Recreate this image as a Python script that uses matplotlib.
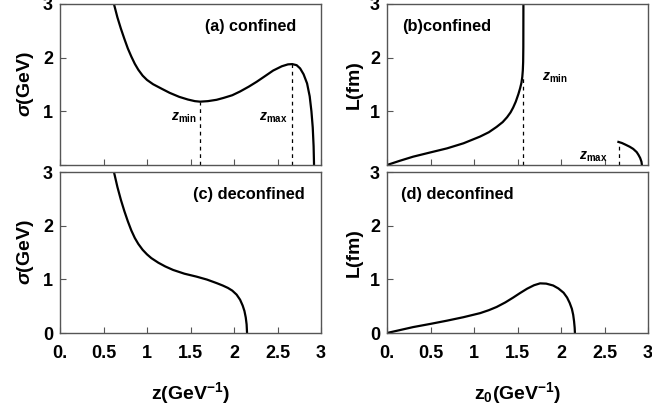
import matplotlib
matplotlib.use("Agg")
import matplotlib.pyplot as plt

plt.rcParams['font.family'] = ['Liberation Sans', 'DejaVu Sans']
plt.rcParams['font.weight'] = 'bold'
plt.rcParams['mathtext.fontset'] = 'custom'
plt.rcParams['mathtext.rm'] = 'Liberation Sans:bold'
plt.rcParams['mathtext.it'] = 'Liberation Sans:bold:italic'
plt.rcParams['mathtext.bf'] = 'Liberation Sans:bold'

# (a) string tension, confined phase
z_conf = [0.62, 0.66, 0.70, 0.74, 0.78, 0.82, 0.86, 0.90, 0.95, 1.00, 1.07, 1.17, 1.26,
          1.37, 1.47, 1.55, 1.61, 1.70, 1.80, 1.88, 1.98, 2.07, 2.17, 2.26, 2.36, 2.45,
          2.55, 2.62, 2.67, 2.72, 2.76, 2.80, 2.84, 2.87, 2.89, 2.905, 2.915, 2.92]
sigma_conf = [3.00, 2.75, 2.54, 2.35, 2.17, 2.02, 1.885, 1.775, 1.665, 1.585, 1.505, 1.42, 1.345,
              1.27, 1.22, 1.19, 1.18, 1.19, 1.215, 1.25, 1.30, 1.37, 1.46, 1.55, 1.66, 1.76,
              1.84, 1.875, 1.88, 1.86, 1.80, 1.69, 1.52, 1.28, 1.00, 0.70, 0.35, 0.00]
z_min, z_max = 1.61, 2.67
sigma_at_zmin, sigma_at_zmax = 1.18, 1.88

# (b) separation, confined phase: branch below z_min and branch beyond z_max
z0_b1 = [0.00, 0.15, 0.30, 0.50, 0.69, 0.88, 1.07, 1.17, 1.26, 1.33, 1.38, 1.42, 1.45,
         1.48, 1.51, 1.53, 1.545, 1.555, 1.561, 1.565, 1.567, 1.568]
L_b1 = [0.00, 0.08, 0.155, 0.235, 0.31, 0.405, 0.53, 0.61, 0.71, 0.80, 0.89, 0.98, 1.07,
        1.18, 1.32, 1.43, 1.53, 1.64, 1.76, 1.92, 2.20, 3.00]
z0_b2 = [2.66, 2.70, 2.74, 2.79, 2.83, 2.87, 2.89, 2.91, 2.925, 2.93]
L_b2 = [0.43, 0.41, 0.38, 0.34, 0.30, 0.24, 0.19, 0.13, 0.06, 0.00]
L_dash_zmin, L_dash_zmax = 1.62, 0.42

# (c) string tension, deconfined phase
z_dec = [0.62, 0.66, 0.70, 0.74, 0.78, 0.82, 0.86, 0.90, 0.95, 1.00, 1.05, 1.13, 1.21,
         1.30, 1.43, 1.57, 1.69, 1.80, 1.87, 1.93, 1.98, 2.03, 2.07, 2.10, 2.12, 2.135,
         2.145, 2.15]
sigma_dec = [3.00, 2.72, 2.48, 2.27, 2.08, 1.91, 1.77, 1.66, 1.55, 1.465, 1.395, 1.31, 1.24,
             1.175, 1.105, 1.05, 0.995, 0.93, 0.885, 0.84, 0.79, 0.715, 0.62, 0.51, 0.41, 0.29,
             0.16, 0.00]

# (d) separation, deconfined phase
z0_dec = [0.00, 0.15, 0.30, 0.50, 0.69, 0.88, 1.07, 1.17, 1.26, 1.36, 1.45, 1.53, 1.61,
          1.69, 1.76, 1.83, 1.91, 1.97, 2.03, 2.07, 2.10, 2.125, 2.14, 2.15, 2.157, 2.16]
L_dec = [0.00, 0.055, 0.11, 0.17, 0.23, 0.295, 0.37, 0.425, 0.485, 0.57, 0.66, 0.745, 0.825,
         0.89, 0.925, 0.92, 0.885, 0.83, 0.75, 0.66, 0.56, 0.45, 0.34, 0.22, 0.10, 0.00]

xticks = [0, 0.5, 1, 1.5, 2, 2.5, 3]
xticklabels = ['0.', '0.5', '1', '1.5', '2', '2.5', '3']
yticks = [0, 1, 2, 3]

W, H = 652, 408
fig = plt.figure(figsize=(W / 100, H / 100), dpi=100)

def box(x0, x1, ytop, ybot):
    return [x0 / W, 1 - ybot / H, (x1 - x0) / W, (ybot - ytop) / H]

ax_a = fig.add_axes(box(60, 321, 4, 165))
ax_b = fig.add_axes(box(387, 648, 4, 165))
ax_c = fig.add_axes(box(60, 321, 172, 333))
ax_d = fig.add_axes(box(387, 648, 172, 333))

frame_col = '#555555'
for ax in (ax_a, ax_b, ax_c, ax_d):
    ax.set_xlim(0, 3)
    ax.set_ylim(0, 3)
    ax.set_xticks(xticks)
    ax.set_yticks(yticks)
    for s in ax.spines.values():
        s.set_color(frame_col)
        s.set_linewidth(1.0)
    ax.tick_params(direction='in', length=4, width=0.8, color=frame_col,
                   labelsize=13, top=False, right=False)
    ax.tick_params(axis='x', pad=9)
    ax.tick_params(axis='y', pad=5)

for ax in (ax_a, ax_b):
    ax.set_xticklabels([])
    ax.set_yticklabels(['', '1', '2', '3'], fontweight='bold')
for ax in (ax_c, ax_d):
    ax.set_xticklabels(xticklabels, fontweight='bold')
    ax.set_yticklabels(['0', '1', '2', '3'], fontweight='bold')

lw = 1.6
dash = (0, (3, 3))
ax_a.plot(z_conf, sigma_conf, color='black', lw=lw)
ax_a.plot([z_min, z_min], [0, sigma_at_zmin], color='black', lw=0.9, ls=dash)
ax_a.plot([z_max, z_max], [0, sigma_at_zmax], color='black', lw=0.9, ls=dash)
ax_a.text(1.42, 0.88, r'$z_{\rm min}$', fontsize=10, ha='center', va='center')
ax_a.text(2.45, 0.88, r'$z_{\rm max}$', fontsize=10, ha='center', va='center')
ax_a.text(2.72, 2.58, '(a) confined', fontsize=11.6, fontweight='bold', ha='right', va='center')

ax_b.plot(z0_b1, L_b1, color='black', lw=lw)
ax_b.plot(z0_b2, L_b2, color='black', lw=lw)
ax_b.plot([z0_b1[-1], z0_b1[-1]], [0, L_dash_zmin], color='black', lw=0.9, ls=dash)
ax_b.plot([z_max, z_max], [0, L_dash_zmax], color='black', lw=0.9, ls=dash)
ax_b.text(1.93, 1.63, r'$z_{\rm min}$', fontsize=10, ha='center', va='center')
ax_b.text(2.37, 0.15, r'$z_{\rm max}$', fontsize=10, ha='center', va='center')
ax_b.text(0.17, 2.58, '(b)confined', fontsize=11.8, fontweight='bold', ha='left', va='center')

ax_c.plot(z_dec, sigma_dec, color='black', lw=lw)
ax_c.text(2.81, 2.58, '(c) deconfined', fontsize=11.8, fontweight='bold', ha='right', va='center')

ax_d.plot(z0_dec, L_dec, color='black', lw=lw)
ax_d.text(0.16, 2.58, '(d) deconfined', fontsize=11.8, fontweight='bold', ha='left', va='center')

for ax in (ax_a, ax_c):
    ax.set_ylabel(r'$\sigma$(GeV)', fontsize=14, fontweight='bold', labelpad=5)
for ax in (ax_b, ax_d):
    ax.set_ylabel('L(fm)', fontsize=14, fontweight='bold', labelpad=5)
ax_c.set_xlabel(r'z(GeV$^{-1}$)', fontsize=14, fontweight='bold', labelpad=13)
ax_d.set_xlabel(r'z$_0$(GeV$^{-1}$)', fontsize=14, fontweight='bold', labelpad=13)

fig.savefig('out.png', dpi=100)
